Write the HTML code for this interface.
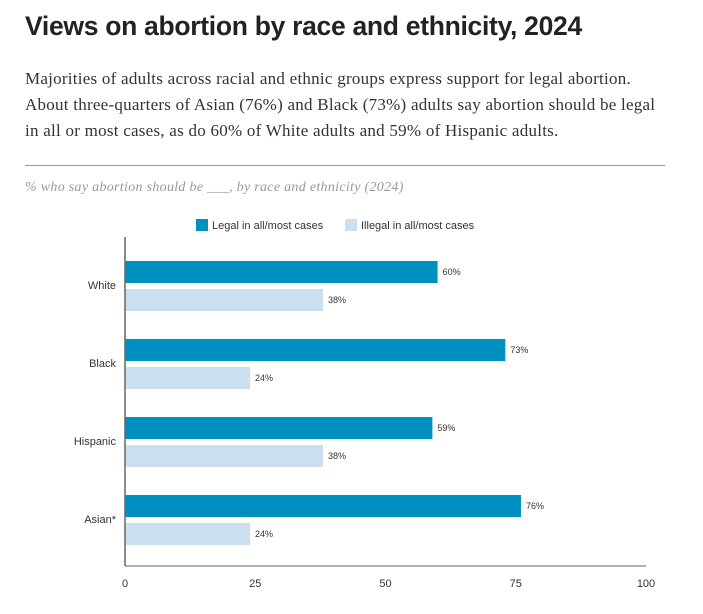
<!DOCTYPE html>
<html><head><meta charset="utf-8"><style>
body{margin:0;background:#fff;width:703px;height:614px;overflow:hidden;position:relative;font-family:"Liberation Sans",sans-serif}
h1{position:absolute;left:25px;top:11px;margin:0;font-size:26.5px;font-weight:bold;color:#222;letter-spacing:-0.3px}
.desc{position:absolute;left:25px;top:66px;width:680px;font-family:"Liberation Serif",serif;font-size:17px;line-height:26px;color:#333;margin:0;letter-spacing:0.25px;white-space:nowrap}
.rule{position:absolute;left:25px;top:165px;width:640px;height:1px;background:#999}
.sub{position:absolute;left:25px;top:180px;font-family:"Liberation Serif",serif;font-style:italic;font-size:14px;color:#999;letter-spacing:0.3px}
</style></head><body>
<h1>Views on abortion by race and ethnicity, 2024</h1>
<p class="desc">Majorities of adults across racial and ethnic groups express support for legal abortion.<br>About three-quarters of Asian (76%) and Black (73%) adults say abortion should be legal<br>in all or most cases, as do 60% of White adults and 59% of Hispanic adults.</p>
<div class="rule"></div>
<div class="sub">% who say abortion should be ___, by race and ethnicity (2024)</div>
<svg id="chart" width="703" height="614" style="position:absolute;left:0;top:0"></svg>
<script>
const categories=["White","Black","Hispanic","Asian*"];
const legalValues=[60,73,59,76];
const illegalValues=[38,24,38,24];
const tickValues=[0,25,50,75,100];
const seriesNames=["Legal in all/most cases","Illegal in all/most cases"];
const NS="http://www.w3.org/2000/svg";
const svg=document.getElementById('chart');
const x0=125,x1=646,yTop=237,yBase=566;
const xs=v=>x0+(v/100)*(x1-x0);
const yc=i=>285+i*78;
function mk(t,a){const e=document.createElementNS(NS,t);for(const k in a)e.setAttribute(k,a[k]);svg.appendChild(e);return e;}
const colors=["#0090c0","#cadfef"];
const lx=[196,345];
seriesNames.forEach((n,i)=>{
 const r=mk('rect',{x:lx[i],y:219,width:12,height:12,fill:colors[i]});
 
 
 const t=mk('text',{x:lx[i]+16,y:229,'font-size':11,fill:'#333','font-family':'Liberation Sans'});
 t.textContent=n;
 
 
});
categories.forEach((c,i)=>{
 const cy=yc(i);
 const lab=mk('text',{x:116,y:cy+4,'text-anchor':'end','font-size':11,fill:'#333','font-family':'Liberation Sans'});
 lab.textContent=c;
 
 
 [[legalValues[i],cy-24],[illegalValues[i],cy+4]].forEach(([v,y],j)=>{
  const b=mk('rect',{x:x0,y:y,width:xs(v)-x0,height:22,fill:colors[j]});
  
  
  const t=mk('text',{x:xs(v)+5,y:y+14,'font-size':9,fill:'#333','font-family':'Liberation Sans'});
  t.textContent=v+'%';
  
  
 });
});
const ya=mk('line',{x1:x0,y1:yTop,x2:x0,y2:yBase,stroke:'#666','stroke-width':1.5});


const xa=mk('line',{x1:x0,y1:yBase,x2:x1,y2:yBase,stroke:'#666','stroke-width':1});


tickValues.forEach(v=>{
 const t=mk('text',{x:xs(v),y:587,'text-anchor':'middle','font-size':11,fill:'#333','font-family':'Liberation Sans'});
 t.textContent=v;
 
 
});
</script>
</body></html>
